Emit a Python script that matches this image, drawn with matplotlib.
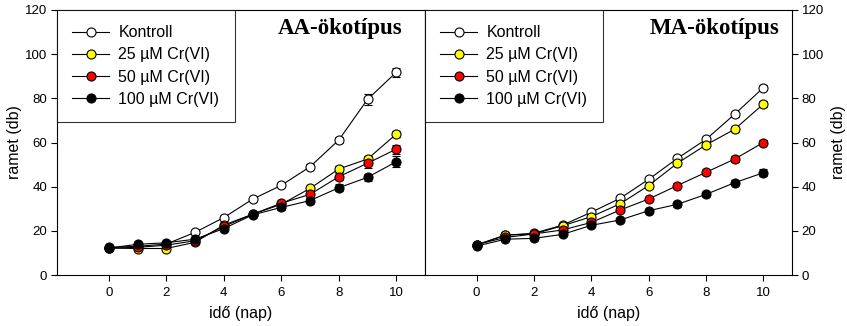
import numpy as np
import matplotlib
matplotlib.use("Agg")
import matplotlib.pyplot as plt
from matplotlib.lines import Line2D

plt.rcParams["font.family"] = ["Liberation Sans", "DejaVu Sans"]

# Données
napok = np.arange(0, 11)
sorozatok = ["Kontroll", "25 µM Cr(VI)", "50 µM Cr(VI)", "100 µM Cr(VI)"]
szinek = ["white", "#ffff00", "#ff0000", "black"]

# AA-ökotípus
aa_kontroll = [12.5, 13.0, 14.0, 19.3, 26.0, 34.3, 40.6, 49.0, 61.1, 79.5, 91.8]
aa_25 = [12.2, 12.0, 12.0, 14.8, 22.6, 27.5, 32.0, 39.2, 48.0, 52.5, 63.8]
aa_50 = [12.2, 12.5, 13.5, 15.5, 22.0, 27.5, 32.5, 36.5, 44.5, 50.6, 57.0]
aa_100 = [12.2, 13.9, 14.6, 16.2, 21.0, 27.2, 30.6, 33.7, 39.5, 44.2, 51.3]
aa_kontroll_err = [0.5, 0.5, 0.5, 0.6, 0.8, 0.8, 0.8, 1.2, 1.5, 2.5, 2.0]
aa_25_err = [0.5, 0.5, 0.5, 0.5, 0.8, 0.8, 1.0, 1.0, 1.5, 1.5, 1.5]
aa_50_err = [0.5, 0.5, 0.5, 0.5, 0.8, 0.8, 1.0, 1.0, 1.5, 2.0, 2.0]
aa_100_err = [0.5, 0.5, 0.5, 0.5, 0.8, 0.8, 1.0, 1.0, 1.5, 1.5, 2.5]

# MA-ökotípus
ma_kontroll = [13.6, 18.0, 18.9, 22.6, 28.4, 34.7, 43.3, 52.8, 61.4, 72.8, 84.8]
ma_25 = [13.6, 18.1, 18.6, 22.3, 26.4, 32.2, 40.5, 50.6, 58.9, 66.0, 77.4]
ma_50 = [13.8, 17.0, 18.6, 20.4, 23.8, 29.4, 34.4, 40.5, 46.5, 52.5, 60.0]
ma_100 = [13.1, 16.2, 16.6, 18.4, 22.5, 24.9, 29.1, 32.0, 36.5, 41.8, 46.3]
ma_kontroll_err = [0.5, 0.5, 0.5, 0.6, 0.8, 0.8, 0.8, 1.0, 1.0, 1.2, 1.2]
ma_25_err = [0.5, 0.5, 0.5, 0.6, 0.8, 0.8, 0.8, 1.0, 1.0, 1.2, 1.2]
ma_50_err = [0.5, 0.5, 0.5, 0.6, 0.8, 0.8, 0.8, 1.0, 1.0, 1.5, 1.2]
ma_100_err = [0.5, 0.5, 0.5, 0.6, 0.8, 0.8, 0.8, 1.0, 1.0, 1.2, 1.5]

aa = [(aa_kontroll, aa_kontroll_err), (aa_25, aa_25_err), (aa_50, aa_50_err), (aa_100, aa_100_err)]
ma = [(ma_kontroll, ma_kontroll_err), (ma_25, ma_25_err), (ma_50, ma_50_err), (ma_100, ma_100_err)]

fig = plt.figure(figsize=(8.47, 3.26), dpi=100)
ax1 = fig.add_axes([57 / 847, 51 / 326, 368 / 847, 265 / 326])
ax2 = fig.add_axes([425 / 847, 51 / 326, 367 / 847, 265 / 326])


def rajzol(ax, adatok, cim, cim_x):
    jelek = []
    for (ertek, hiba), nev, szin in zip(adatok, sorozatok, szinek):
        ax.errorbar(napok, ertek, yerr=hiba, color="black", lw=0.8,
                    marker="o", ms=6.5, mfc=szin, mec="black", mew=0.8,
                    capsize=3, elinewidth=0.8, capthick=0.8)
        jelek.append(Line2D([], [], color="black", lw=0.8, marker="o", ms=6.5,
                            mfc=szin, mec="black", mew=0.8, label=nev))
    ax.set_xlim(-1.8, 11)
    ax.set_ylim(0, 120)
    ax.set_xticks([0, 2, 4, 6, 8, 10])
    ax.set_yticks(np.arange(0, 121, 20))
    ax.tick_params(direction="out", length=4, width=0.8, labelsize=9.5, pad=3)
    ax.tick_params(axis="x", pad=5)
    for sp in ax.spines.values():
        sp.set_linewidth(0.8)
    ax.set_xlabel("idő (nap)", fontsize=11.5, labelpad=5)
    ax.set_ylabel("ramet (db)", fontsize=11.5)
    leg = ax.legend(handles=jelek, loc="upper left", bbox_to_anchor=(0, 1),
                    borderaxespad=0, fontsize=11.5, frameon=True, fancybox=False,
                    handlelength=2.3, handletextpad=0.6, labelspacing=0.45,
                    borderpad=0.95, numpoints=1)
    leg.get_frame().set_edgecolor("black")
    leg.get_frame().set_linewidth(0.8)
    ax.text(cim_x, 0.93, cim, transform=ax.transAxes, ha="center", va="center",
            fontsize=16.5, fontweight="bold", family="Liberation Serif")


rajzol(ax1, aa, "AA-ökotípus", 0.77)
rajzol(ax2, ma, "MA-ökotípus", 0.79)
ax1.yaxis.set_label_coords(-0.095, 0.5)
ax2.yaxis.tick_right()
ax2.yaxis.set_label_position("right")
ax2.yaxis.set_label_coords(1.106, 0.5)

fig.savefig("out.png", dpi=100)
